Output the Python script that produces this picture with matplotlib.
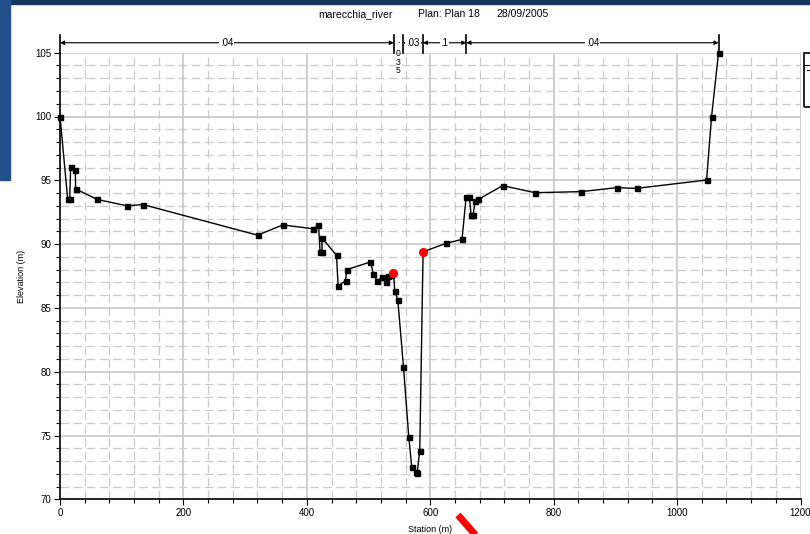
import matplotlib
matplotlib.use("Agg")
import matplotlib.pyplot as plt
from matplotlib.patches import Rectangle
from matplotlib.lines import Line2D
import numpy as np

plt.rcParams['font.family'] = ['Liberation Sans', 'DejaVu Sans']

# ---- data ----
station = [0, 12.5, 15.7, 17.3, 24.8, 25.4, 60.4, 108.5, 134.4, 320.1,
           361.1, 410.8, 418.9, 421.5, 424.8, 424.3, 448.1, 450.7, 462.7, 464.8,
           503.1, 508.0, 513.9, 522.5, 527.9, 531.7, 536.0, 540.4,
           542.5, 547.4, 556.6, 565.2, 570.0, 576.5, 578.7, 583.0, 588.4,
           625.6, 651.5, 658.1, 663.5, 666.2, 669.5, 672.7, 678.1,
           717.4, 769.8, 843.7, 902.0, 934.4, 1047.8, 1055.9, 1067.2]
elevation = [100.0, 93.5, 93.5, 96.07, 95.83, 94.32, 93.5, 93.0, 93.1, 90.7,
             91.5, 91.2, 91.5, 89.4, 89.4, 90.5, 89.12, 86.72, 87.13, 88.0,
             88.6, 87.66, 87.13, 87.4, 87.0, 87.5, 87.55, 87.74,
             86.35, 85.64, 80.39, 74.88, 72.56, 72.14, 72.04, 73.81, 89.4,
             90.06, 90.37, 93.67, 93.67, 92.26, 92.26, 93.38, 93.51,
             94.58, 94.03, 94.11, 94.42, 94.37, 95.02, 100.0, 105.0]
bank_stations = [540.4, 588.4]
n_breaks = [0, 541, 556, 588, 658.5, 1067.2]
n_labels = ['.04', '.035', '.03', '.1', '.04']

title_parts = ['marecchia_river', 'Plan: Plan 18', '28/09/2005']
x_ticks = [0, 200, 400, 600, 800, 1000, 1200]
y_ticks = [70, 75, 80, 85, 90, 95, 100, 105]

W, H = 810, 534
fig = plt.figure(figsize=(W / 100, H / 100), dpi=100)
fig.patch.set_facecolor('white')

# background slide pieces
fig.add_artist(Rectangle((0, 1 - 4 / H), 1, 4 / H, transform=fig.transFigure,
                         color='#15385f', zorder=-5))
fig.add_artist(Rectangle((0, 1 - 180 / H), 10 / W, 180 / H, transform=fig.transFigure,
                         color='#21508a', zorder=-5))

ax = fig.add_axes([60 / W, 34.7 / H, 740.5 / W, 446.6 / H])
ax.set_xlim(0, 1200)
ax.set_ylim(70, 105)

gcol = '#cccccc'
# minor dashed grid
for x in np.arange(40, 1200, 40):
    if x % 200 != 0:
        ax.axvline(x, color=gcol, lw=0.9, dashes=(7, 3.5), zorder=0)
for y in np.arange(71, 105, 1):
    if y % 5 != 0:
        ax.axhline(y, color=gcol, lw=0.9, dashes=(7, 3.5), zorder=0)
# major grid
for x in x_ticks[1:]:
    ax.axvline(x, color=gcol, lw=1.3, zorder=0.5)
for y in y_ticks[1:]:
    ax.axhline(y, color=gcol, lw=1.3, zorder=0.5)

ax.spines['top'].set_visible(False)
ax.spines['right'].set_visible(False)
ax.spines['left'].set_linewidth(1.2)
ax.spines['bottom'].set_linewidth(1.2)

ax.set_xticks(x_ticks)
ax.set_yticks(y_ticks)
ax.set_xticks(np.arange(0, 1201, 40), minor=True)
ax.set_yticks(np.arange(70, 106, 1), minor=True)
ax.tick_params(axis='both', which='major', labelsize=7, length=4, width=0.8, direction='out', pad=2)
ax.tick_params(axis='both', which='minor', length=3, width=0.8, direction='out')

ax.set_xlabel('Station (m)', fontsize=6.5, labelpad=5)
ax.set_ylabel('Elevation (m)', fontsize=6.5, labelpad=7)

# ground line
ax.plot(station, elevation, color='black', lw=1.0, marker='s', markersize=3.6,
        zorder=3, clip_on=False)
bank_elev = [elevation[station.index(s)] for s in bank_stations]
ax.plot(bank_stations, bank_elev, linestyle='none', marker='o', color='red',
        markersize=5.5, zorder=4, clip_on=False)

# Manning's n bar
ytop, yline = 106.4, 105.78
ax.plot([0, 0], [105, ytop], color='black', lw=1.2, clip_on=False)
for b in n_breaks[1:]:
    ax.plot([b, b], [105, ytop], color='black', lw=1.2, clip_on=False)
for i, lab in enumerate(n_labels):
    a, b = n_breaks[i], n_breaks[i + 1]
    mid = (a + b) / 2
    if b - a < 20:
        ax.text(mid, 105.95, '.', fontsize=6.5, ha='center', va='center', clip_on=False)
        for k, ch in enumerate(lab[1:]):
            ax.text(mid, 104.9 - 0.66 * k, ch, fontsize=6.2, ha='center', va='center',
                    clip_on=False)
        continue
    ax.annotate('', xy=(a, yline), xytext=(b, yline),
                arrowprops=dict(arrowstyle='<|-|>', lw=0.8, color='black',
                                mutation_scale=6, shrinkA=0, shrinkB=0),
                annotation_clip=False)
    ax.text(mid, yline, lab, fontsize=7, ha='center', va='center', clip_on=False,
            bbox=dict(facecolor='white', edgecolor='none', pad=0.6), zorder=5)

# title
for txt, px in zip(title_parts, [318, 418, 496]):
    fig.text(px / W, 1 - 14 / H, txt, fontsize=7.5, ha='left', va='center')

# clipped legend box on the right
fig.add_artist(Rectangle((804 / W, 1 - 107.3 / H), 20 / W, (107.3 - 52.7) / H,
                         transform=fig.transFigure, fill=False, ec='black', lw=1.2))
fig.add_artist(Line2D([804 / W, 1], [1 - 65 / H, 1 - 65 / H], transform=fig.transFigure,
                      color='black', lw=0.8))
fig.add_artist(Line2D([806.5 / W, 809 / W], [1 - 69.5 / H, 1 - 69.5 / H],
                      transform=fig.transFigure, color='black', lw=0.8))

# red pointer stroke
fig.add_artist(Line2D([458 / W, 478 / W], [1 - 515 / H, 1 - 538 / H],
                      transform=fig.transFigure, color='red', lw=5, solid_capstyle='butt'))

fig.savefig('out.png', dpi=100)
